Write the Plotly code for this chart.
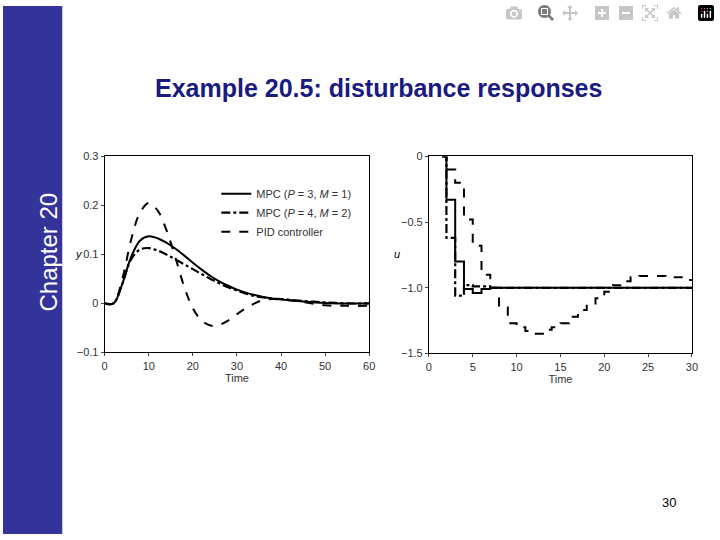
import plotly.graph_objects as go

# left panel: output y
t_y = [0, 2, 4, 6, 8, 10, 12, 14, 16, 18, 20, 22, 24, 26, 28, 30, 32, 34, 36, 38, 40, 45, 50, 55, 60]
y_mpc1 = [0, 0, 0.04, 0.095, 0.128, 0.137, 0.133, 0.124, 0.112, 0.098, 0.083, 0.069, 0.056, 0.045,
          0.036, 0.028, 0.022, 0.017, 0.013, 0.010, 0.008, 0.004, 0.001, 0, 0]
y_mpc2 = [0, 0, 0.04, 0.09, 0.11, 0.113, 0.108, 0.1, 0.09, 0.08, 0.07, 0.06, 0.05, 0.041,
          0.033, 0.026, 0.02, 0.015, 0.012, 0.01, 0.009, 0.005, 0.002, 0, 0]
y_pid = [0, 0, 0.05, 0.13, 0.185, 0.205, 0.19, 0.15, 0.095, 0.035, -0.01, -0.035, -0.045, -0.044,
         -0.035, -0.022, -0.01, 0.0, 0.007, 0.009, 0.008, 0.003, -0.004, -0.005, -0.005]

# right panel: input u (piecewise constant)
t_u1 = [1.8, 2, 3, 4, 5, 6, 7, 30]
u_mpc1 = [0, -0.33, -0.8, -1.01, -1.04, -1.01, -1.0, -1.0]
t_u2 = [1.5, 2, 3, 4, 5, 7, 30]
u_mpc2 = [0, -0.62, -1.06, -0.98, -0.99, -1.0, -1.0]
t_u3 = [1.5, 2, 3, 4, 5, 6, 7, 8, 9, 10, 11, 12, 13, 14, 15, 16, 17, 18, 19, 20, 21, 22, 23, 24,
        25, 26, 27, 28, 29, 30]
u_pid = [0, -0.1, -0.2, -0.48, -0.68, -0.9, -1.0, -1.15, -1.27, -1.3, -1.33, -1.35, -1.32, -1.3,
         -1.27, -1.22, -1.17, -1.12, -1.08, -1.03, -0.98, -0.95, -0.92, -0.91, -0.91, -0.91, -0.92,
         -0.92, -0.94, -0.94]

names = ["MPC (<i>P</i> = 3, <i>M</i> = 1)", "MPC (<i>P</i> = 4, <i>M</i> = 2)", "PID controller"]
dashes = ["solid", "dashdot", "dash"]
widths = [2, 2.2, 2]

fig = go.Figure()
for ys, name, d, w in zip([y_mpc1, y_mpc2, y_pid], names, dashes, widths):
    fig.add_trace(go.Scatter(x=t_y, y=ys, mode="lines", name=name, line=dict(color="black", dash=d, width=w, shape="spline"),
                             xaxis="x", yaxis="y"))
for tx, us, d, w in zip([t_u1, t_u2, t_u3], [u_mpc1, u_mpc2, u_pid], dashes, widths):
    fig.add_trace(go.Scatter(x=tx, y=us, mode="lines", showlegend=False, line=dict(color="black", dash=d, width=w, shape="hv"),
                             xaxis="x2", yaxis="y2"))

ax = dict(showline=True, mirror=True, linecolor="black", linewidth=1, ticks="outside", ticklen=3,
          showgrid=False, zeroline=False, tickfont=dict(size=11, color="#333"),
          title=dict(text="Time", font=dict(size=11, color="#333"), standoff=2))
yax = {k: v for k, v in ax.items() if k != "title"}
fig.update_layout(
    width=720, height=540, margin=dict(l=0, r=0, t=0, b=0),
    paper_bgcolor="white", plot_bgcolor="white",
    font=dict(family="Liberation Sans, Arial", color="black"),
    xaxis=dict(ax, domain=[0.143, 0.515], range=[0, 60], dtick=10),
    yaxis=dict(yax, domain=[0.344, 0.715], range=[-0.1, 0.3],
               tickvals=[-0.1, 0, 0.1, 0.2, 0.3], ticktext=["−0.1", "0", "0.1", "0.2", "0.3"]),
    xaxis2=dict(ax, domain=[0.599, 0.969], range=[0, 30], dtick=5, anchor="y2"),
    yaxis2=dict(yax, domain=[0.342, 0.715], range=[-1.5, 0], anchor="x2",
                tickvals=[-1.5, -1.0, -0.5, 0], ticktext=["−1.5", "−1.0", "−0.5", "0"]),
    legend=dict(x=0.3, y=0.672, xanchor="left", yanchor="top", bgcolor="rgba(0,0,0,0)",
                font=dict(size=11, color="#333"), tracegroupgap=0),
    shapes=[dict(type="rect", xref="paper", yref="paper", x0=0, x1=60 / 720, y0=0, y1=1,
                 fillcolor="#333399", line=dict(width=0), layer="below")],
    annotations=[
        dict(text="<b>Example 20.5: disturbance responses</b>", x=380 / 720, y=1 - 68 / 540, xref="paper",
             yref="paper", showarrow=False, font=dict(size=25, color="#1a1a80", family="Liberation Sans, Arial")),
        dict(text="Chapter 20", textangle=-90, x=30 / 720, y=1 - 252 / 540, xref="paper", yref="paper",
             showarrow=False, font=dict(size=24, color="white")),
        dict(text="30", x=684 / 720, y=1 - 517 / 540, xref="paper", yref="paper", showarrow=False,
             font=dict(size=13, color="black")),
        dict(text="<i>y</i>", x=71 / 720, y=1 - 254 / 540, xref="paper", yref="paper", showarrow=False,
             font=dict(size=11)),
        dict(text="<i>u</i>", x=399 / 720, y=1 - 254 / 540, xref="paper", yref="paper", showarrow=False,
             font=dict(size=11)),
    ],
)

fig.write_html("out.html", post_script="document.body.style.margin='0';document.body.style.overflow='hidden';")
